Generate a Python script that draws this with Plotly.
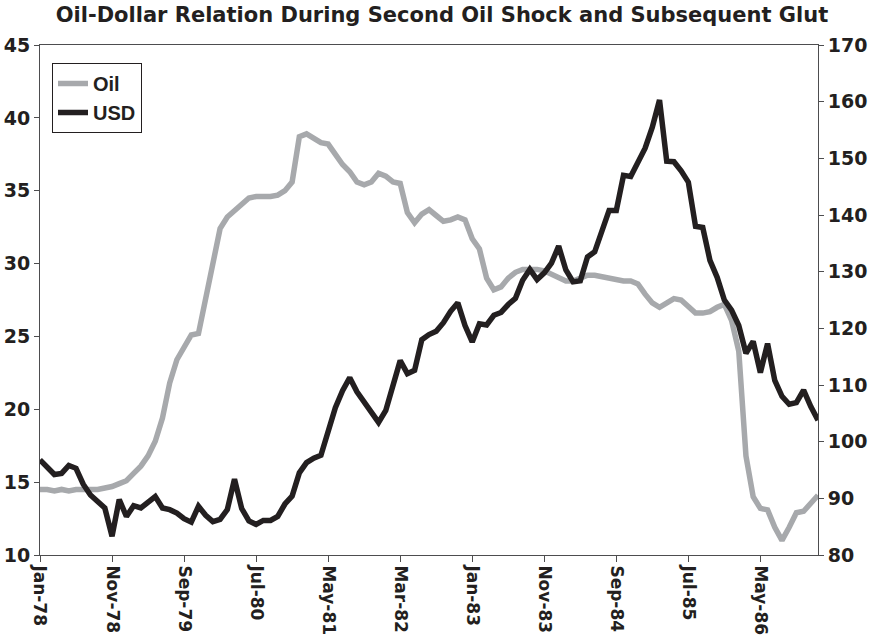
import pandas as pd
import plotly.graph_objects as go

# Monthly categories Jan-78 .. Jan-87
months = list(pd.date_range("1978-01-01", periods=109, freq="MS").strftime("%b-%y"))
tick_labels = ["Jan-78", "Nov-78", "Sep-79", "Jul-80", "May-81", "Mar-82",
               "Jan-83", "Nov-83", "Sep-84", "Jul-85", "May-86"]

oil = [
    14.5, 14.5, 14.4, 14.5, 14.4, 14.5, 14.5, 14.5, 14.5, 14.6,
    14.7, 14.9, 15.1, 15.6, 16.1, 16.8, 17.8, 19.4, 21.8, 23.4,
    24.3, 25.1, 25.2, 27.5, 30.0, 32.4, 33.2, 33.6, 34.1, 34.5,
    34.6, 34.6, 34.6, 34.7, 35.0, 35.6, 38.7, 38.9, 38.6, 38.3,
    38.2, 37.5, 36.8, 36.3, 35.6, 35.4, 35.6, 36.2, 36.0, 35.6,
    35.5, 33.5, 32.8, 33.4, 33.7, 33.3, 32.9, 33.0, 33.2, 33.0,
    31.7, 31.0, 29.0, 28.2, 28.4, 29.0, 29.4, 29.6, 29.6, 29.6,
    29.5, 29.3, 29.0, 28.8, 28.8, 29.0, 29.2, 29.2, 29.1, 29.0,
    28.9, 28.8, 28.8, 28.6, 27.9, 27.3, 27.0, 27.3, 27.6, 27.5,
    27.1, 26.6, 26.6, 26.7, 27.0, 27.2, 26.1, 24.0, 16.8, 14.0,
    13.2, 13.1, 11.9, 11.0, 11.9, 12.9, 13.0, 13.5, 14.1,
]

usd = [
    96.8, 95.5, 94.2, 94.4, 95.8, 95.3, 92.5, 90.6, 89.6, 88.3,
    83.3, 89.8, 86.8, 88.7, 88.3, 89.3, 90.3, 88.3, 88.0, 87.4,
    86.4, 85.8, 88.6, 87.0, 85.9, 86.3, 88.0, 93.4, 88.2, 86.0,
    85.4, 86.1, 86.1, 86.8, 89.0, 90.4, 94.5, 96.3, 97.1, 97.6,
    102.0, 106.0, 109.0, 111.3, 108.8, 107.0, 105.0, 103.4, 105.5, 110.0,
    114.3, 112.0, 112.6, 118.0, 118.9, 119.5, 121.0, 123.0, 124.5, 120.5,
    117.6, 120.8, 120.6, 122.3, 122.8, 124.2, 125.3, 128.5, 130.4, 128.6,
    129.8, 131.5, 134.5, 130.3, 128.2, 128.4, 132.6, 133.5, 137.0, 140.8,
    140.8, 147.0, 146.8, 149.5, 151.8, 155.5, 160.3, 149.5, 149.4, 147.8,
    145.8, 138.0, 137.8, 132.0, 129.0, 125.0, 123.2, 120.5, 115.6, 117.7,
    112.2, 117.3, 110.8, 108.0, 106.6, 106.9, 109.1, 106.2, 103.8,
]

TXT = "#231f20"
AX = "#4d4d4f"
FONT = "DejaVu Sans"

fig = go.Figure()
fig.add_trace(go.Scatter(x=months, y=oil, name="Oil", mode="lines",
                         line=dict(color="#a7a9ac", width=5.5), yaxis="y"))
fig.add_trace(go.Scatter(x=months, y=usd, name="USD", mode="lines",
                         line=dict(color=TXT, width=5.5), yaxis="y2"))

tickfont = dict(family=FONT, size=19, color=TXT, weight="bold")

W, H = 872, 641
fig.update_layout(
    width=W, height=H,
    margin=dict(l=40, r=54, t=45, b=86),
    paper_bgcolor="white", plot_bgcolor="white",
    title=dict(text="Oil-Dollar Relation During Second Oil Shock and Subsequent Glut",
               x=442 / W, xanchor="center", y=1 - 15 / H, yanchor="middle",
               xref="container", yref="container", automargin=False,
               font=dict(family=FONT, size=21, color=TXT, weight="bold")),
    xaxis=dict(type="category", categoryorder="array", categoryarray=months,
               range=[0, len(months) - 1], automargin=False,
               tickmode="array", tickvals=tick_labels, ticktext=tick_labels,
               tickangle=90, ticks="outside", ticklen=6, tickcolor=AX,
               showline=True, linecolor=AX, linewidth=1, mirror=True,
               showgrid=False, zeroline=False,
               tickfont=dict(family=FONT, size=17, color=TXT, weight="bold")),
    yaxis=dict(range=[10, 45], dtick=5, ticks="outside", ticklen=5, tickcolor=AX,
               showline=True, linecolor=AX, linewidth=1, automargin=False,
               showgrid=False, zeroline=False, tickfont=tickfont),
    yaxis2=dict(range=[80, 170], dtick=10, overlaying="y", side="right",
                ticks="outside", ticklen=5, tickcolor=AX, automargin=False,
                showline=True, linecolor=AX, linewidth=1,
                showgrid=False, zeroline=False, tickfont=tickfont),
    legend=dict(x=12 / 778, y=(555 - 63) / 510, xanchor="left", yanchor="top",
                bgcolor="white", bordercolor=TXT, borderwidth=1,
                itemwidth=30, tracegroupgap=0,
                font=dict(family="Liberation Sans", size=20, color=TXT, weight="bold")),
    showlegend=True,
    hovermode=False,
)

# remove the default page margin so the figure fills the 872x641 window exactly
fig.write_html("out.html",
               config={"displayModeBar": False, "staticPlot": True},
               post_script="document.body.style.margin='0';document.body.style.overflow='hidden';")
